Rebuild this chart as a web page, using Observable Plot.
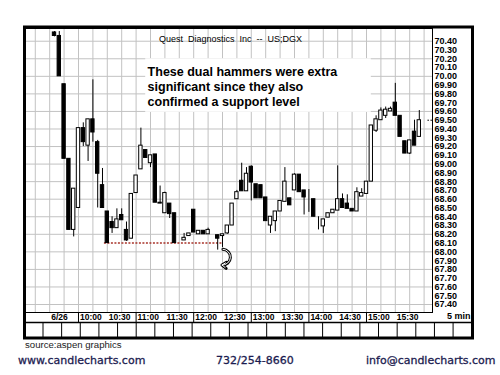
<!DOCTYPE html>
<html>
<head>
<meta charset="utf-8">
<script src="https://cdn.jsdelivr.net/npm/d3@7"></script>
<script src="https://cdn.jsdelivr.net/npm/@observablehq/plot@0.6"></script>
<style>
  html, body { margin: 0; padding: 0; background: #fff; width: 500px; height: 375px; overflow: hidden; }
  body { position: relative; font-family: "Liberation Sans", Arial, sans-serif; }
  #chart { position: absolute; left: 0; top: 0; }
  .src { position: absolute; left: 25px; top: 339px; font-size: 9.6px; color: #222; }
  .foot { position: absolute; top: 354px; font-family: "DejaVu Sans", Verdana, sans-serif; font-size: 11px;
          color: #1c1c50; -webkit-text-stroke: 0.3px #1c1c50; white-space: nowrap; }
</style>
</head>
<body>
<div id="chart"></div>
<div class="src">source:aspen graphics</div>
<div class="foot" style="left:18px">www.candlecharts.com</div>
<div class="foot" style="left:216px">732/254-8660</div>
<div class="foot" style="left:366px">info@candlecharts.com</div>
<script>
// Quest Diagnostics (DGX), 5-minute bars for 6/26, stamped by bar end time
const times = [
  "9:35","9:40","9:45","9:50","9:55","10:00","10:05","10:10","10:15","10:20","10:25","10:30",
  "10:35","10:40","10:45","10:50","10:55","11:00","11:05","11:10","11:15","11:20","11:25","11:30",
  "11:35","11:40","11:50","11:55","12:00","12:05","12:10","12:15","12:20","12:25","12:30",
  "12:35","12:40","12:45","12:50","12:55","13:00","13:05","13:10","13:15","13:20","13:25","13:30",
  "13:35","13:40","13:45","13:50","13:55","14:00","14:05","14:10","14:15","14:20","14:25","14:30",
  "14:35","14:40","14:45","14:50","14:55","15:00","15:05","15:10","15:15","15:20","15:25","15:30",
  "15:35","15:40","15:45","15:50","15:55"
];
const open = [
  70.50,70.46,69.91,69.06,68.25,68.50,69.41,69.21,69.51,69.25,68.76,68.46,
  68.34,68.27,68.42,68.25,68.15,68.67,68.94,69.16,69.01,69.11,68.56,68.44,
  68.55,68.44,68.13,68.18,68.48,68.20,68.24,68.20,68.21,68.19,68.18,
  68.21,68.30,68.60,68.81,68.69,68.97,68.77,68.76,68.62,68.30,68.35,68.46,
  68.57,68.61,68.70,68.88,68.70,68.70,68.60,68.25,68.29,68.39,68.44,68.47,
  68.60,68.55,68.49,68.46,68.63,68.66,68.80,69.38,69.50,69.55,69.60,69.70,
  69.55,69.26,69.12,69.37,69.31
];
const high = [
  70.51,70.51,69.91,69.06,68.72,69.41,69.47,69.51,69.96,69.27,68.95,68.46,
  68.40,68.49,68.49,68.34,68.66,68.87,69.41,69.16,69.10,69.11,68.75,68.68,
  68.55,68.44,68.21,68.21,68.48,68.24,68.24,68.27,68.21,68.19,68.20,
  68.30,68.55,68.70,69.01,68.96,68.98,68.77,68.76,68.62,68.40,68.46,68.58,
  68.96,68.61,68.89,68.88,68.70,68.71,68.60,68.40,68.37,68.44,68.48,68.98,
  68.66,68.65,68.49,68.73,68.72,68.80,69.44,69.55,69.64,69.65,69.65,69.92,
  69.55,69.26,69.27,69.50,69.61
];
const low = [
  70.45,70.00,69.06,68.25,68.17,68.50,69.20,69.03,69.25,68.50,68.50,68.10,
  68.21,68.27,68.36,68.12,68.15,68.67,68.94,69.07,68.96,68.56,68.55,68.44,
  68.38,68.10,68.13,68.18,68.22,68.20,68.20,68.20,68.21,68.02,68.05,
  68.20,68.30,68.60,68.69,68.69,68.58,68.61,68.61,68.35,68.21,68.23,68.46,
  68.57,68.53,68.70,68.68,68.42,68.45,68.40,68.25,68.21,68.39,68.44,68.47,
  68.50,68.49,68.46,68.46,68.63,68.66,68.80,69.36,69.50,69.52,69.60,69.55,
  69.31,69.12,69.11,69.21,69.31
];
const close = [
  70.46,70.00,69.06,68.25,68.72,69.41,69.25,69.51,69.36,68.89,68.50,68.10,
  68.27,68.37,68.36,68.13,68.66,68.87,69.21,69.07,69.10,68.56,68.55,68.67,
  68.43,68.10,68.16,68.21,68.22,68.24,68.20,68.25,68.21,68.15,68.20,
  68.30,68.55,68.68,68.69,68.89,68.79,68.61,68.61,68.35,68.40,68.46,68.58,
  68.80,68.53,68.88,68.68,68.62,68.70,68.40,68.25,68.37,68.44,68.48,68.60,
  68.50,68.49,68.46,68.68,68.67,68.80,69.44,69.51,69.61,69.62,69.63,69.55,
  69.31,69.12,69.27,69.21,69.50
];

// time axis labels (date at the open, then every half hour)
const tickTimes  = ["9:30","10:00","10:30","11:00","11:30","12:00","12:30","13:00","13:30","14:00","14:30","15:00","15:30"];
const tickLabels = ["6/26","10:00","10:30","11:00","11:30","12:00","12:30","13:00","13:30","14:00","14:30","15:00","15:30"];
const hourTimes  = ["10:00","11:00","12:00","13:00","14:00","15:00"];
const priceTicks = d3.range(674, 705).map(v => v / 10);

// support level set by the 10:30 and 11:40 lows, retested by the hammers
const support = {price: 68.10, from: "10:30", to: "12:30"};
const title = "Quest  Diagnostics  Inc  --  US;DGX";
const noteLines = ["These dual hammers were extra", "significant since they also", "confirmed a support level"];

const minutes = s => { const [h, m] = s.split(":").map(Number); return h * 60 + m; };
const bars = times.map((t, i) => ({t: minutes(t), open: open[i], high: high[i], low: low[i], close: close[i]}));
const up = bars.filter(d => d.close >= d.open);
const down = bars.filter(d => d.close < d.open);
const labelOf = new Map(tickTimes.map((t, i) => [minutes(t), tickLabels[i]]));
const last = bars[bars.length - 1];
const half = 1.75;

// hooked pointer under the second hammer, drawn as an outlined arrow
const pointer = {
  x1: d => minutes(d.to) + 0.5, y1: 68.03, x2: d => minutes(d.to) - 0.5, y2: 67.85,
  bend: 90, headLength: 6, headAngle: 70
};

const chart = Plot.plot({
  width: 500,
  height: 340,
  marginLeft: 25,
  marginRight: 68,
  marginTop: 28,
  marginBottom: 28,
  x: {type: "linear", domain: [544.8, 968.75]},
  y: {domain: [67.309, 70.545]},
  style: "font-family: 'Liberation Sans', Arial, sans-serif; font-size: 9px; color: black; background: white; white-space: pre; overflow: visible;",
  marks: [
    Plot.gridY(d3.range(674, 705, 2).map(v => v / 10), {stroke: "#c2c2c2", strokeOpacity: 1}),
    Plot.gridX(d3.range(555, 969, 15), {stroke: "#c2c2c2", strokeOpacity: 1}),
    Plot.frame({stroke: "black"}),
    // white panel behind the commentary
    Plot.rect([noteLines], {x1: minutes("11:10"), x2: minutes("15:05"), y1: 69.59, y2: 70.20, fill: "white"}),
    Plot.text([noteLines.join("\n")], {
      x: minutes("11:12"), y: 70.12, textAnchor: "start", lineAnchor: "top",
      fontSize: 12.5, fontWeight: "bold", lineHeight: 1.2, fill: "black"
    }),
    Plot.text([title], {frameAnchor: "top", dy: 7, dx: 1.5, fontSize: 9, fill: "black"}),
    Plot.ruleY([support], {
      y: "price", x1: d => minutes(d.from) - 3, x2: d => minutes(d.to),
      stroke: "#a8332a", strokeWidth: 1.5, strokeDasharray: "2,1.5"
    }),
    Plot.ruleX(bars, {x: "t", y1: "low", y2: "high", stroke: "black", strokeWidth: 1}),
    Plot.rect(up, {x1: d => d.t - half, x2: d => d.t + half, y1: "open", y2: "close", fill: "white", stroke: "black", strokeWidth: 1}),
    Plot.rect(down, {x1: d => d.t - half, x2: d => d.t + half, y1: "open", y2: "close", fill: "black", stroke: "black", strokeWidth: 1}),
    Plot.arrow([support], {...pointer, stroke: "black", strokeWidth: 3}),
    Plot.arrow([support], {...pointer, stroke: "white", strokeWidth: 1}),
    // last-price marker on the scale
    Plot.ruleY([last], {y: "close", x1: 964, x2: 968.75, stroke: "black", strokeDasharray: "1.5,1.5"}),
    Plot.axisY(priceTicks, {
      anchor: "right", tickSize: 0, tickPadding: 2, label: null,
      tickFormat: d => d.toFixed(2), fontSize: 9, fontWeight: "bold"
    }),
    Plot.axisX(tickTimes.map(minutes), {
      anchor: "bottom", tickSize: 0, tickPadding: 1.5, label: null, textAnchor: "start", dx: 1.5,
      tickFormat: d => labelOf.get(d), fontSize: 8.5, fontWeight: "bold"
    }),
    Plot.axisX(hourTimes.map(minutes), {anchor: "bottom", tickSize: 10, label: null, tickFormat: () => ""}),
    Plot.text(["5 min"], {frameAnchor: "bottom-right", dx: 38, dy: 6, textAnchor: "end", fontSize: 9, fontWeight: "bold", fill: "black"})
  ]
});

// outer chart border and the empty study strip under the time scale
const svg = d3.select(chart);
const deco = svg.append("g").attr("fill", "none").attr("stroke", "black");
deco.append("rect").attr("x", 24.5).attr("y", 27).attr("width", 448).attr("height", 311).attr("stroke-width", 3);
deco.append("line").attr("x1", 24.5).attr("x2", 472.5).attr("y1", 322.5).attr("y2", 322.5).attr("stroke-width", 1.5);
deco.selectAll("line.cell").data(d3.range(23)).join("line").attr("class", "cell")
  .attr("x1", k => 43 + k * 18.64).attr("x2", k => 43 + k * 18.64)
  .attr("y1", 322.5).attr("y2", 338).attr("stroke-width", 1);

document.getElementById("chart").appendChild(chart);
</script>
</body>
</html>
